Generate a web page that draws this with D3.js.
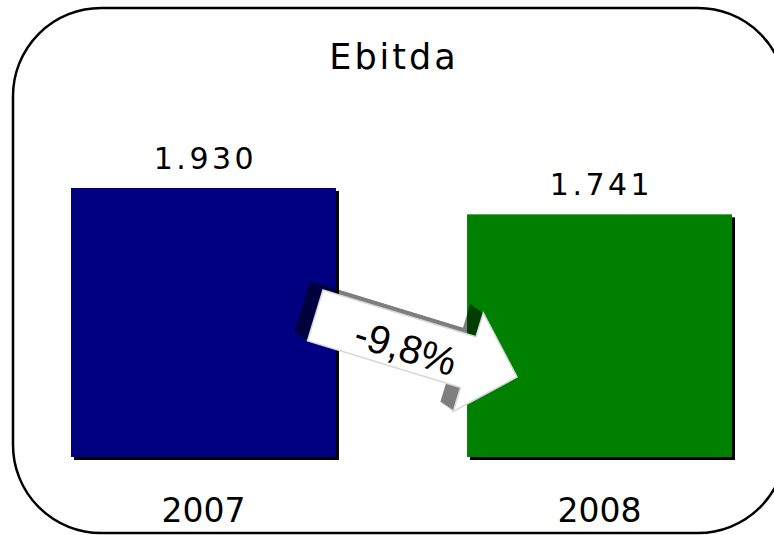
<!DOCTYPE html>
<html>
<head>
<meta charset="utf-8">
<script src="https://cdn.jsdelivr.net/npm/d3@7"></script>
<style>
  body { margin: 0; background: #fff; }
  svg { display: block; font-family: "DejaVu Sans", sans-serif; }
</style>
</head>
<body>
<svg id="chart" width="774" height="535"></svg>
<script>
// data
const title = "Ebitda";
const years = ["2007", "2008"];
const ebitda = [1930, 1741];
const barColors = ["#000080", "#008000"];

const svg = d3.select("#chart");

const data = years.map((y, i) => ({ year: y, value: ebitda[i], color: barColors[i] }));

// frame
svg.append("rect")
  .attr("x", 13).attr("y", 8)
  .attr("width", 773).attr("height", 525)
  .attr("rx", 88).attr("ry", 88)
  .attr("fill", "#fff")
  .attr("stroke", "#000")
  .attr("stroke-width", 2.5);

// scales
const x = d3.scaleBand()
  .domain(years)
  .range([71, 732])
  .paddingInner(0.331);

const y = d3.scaleLinear()
  .domain([0, 1930])
  .range([457, 188]);

// title
svg.append("text")
  .attr("x", 394).attr("y", 69)
  .attr("text-anchor", "middle")
  .attr("font-size", 35)
  .attr("letter-spacing", 3)
  .text(title);

// bar shadows
svg.selectAll("rect.shadow")
  .data(data)
  .enter().append("rect")
  .attr("class", "shadow")
  .attr("x", d => x(d.year) + 3)
  .attr("y", d => y(d.value) + 3)
  .attr("width", x.bandwidth())
  .attr("height", d => y(0) - y(d.value))
  .attr("fill", "#000");

// bars
svg.selectAll("rect.bar")
  .data(data)
  .enter().append("rect")
  .attr("class", "bar")
  .attr("x", d => x(d.year))
  .attr("y", d => y(d.value))
  .attr("width", x.bandwidth())
  .attr("height", d => y(0) - y(d.value))
  .attr("fill", d => d.color);

// value labels
const fmt = v => d3.format(",")(v).replace(/,/g, ".");
svg.selectAll("text.value")
  .data(data)
  .enter().append("text")
  .attr("class", "value")
  .attr("x", d => x(d.year) + x.bandwidth() / 2 + 2)
  .attr("y", d => y(d.value) - 19)
  .attr("text-anchor", "middle")
  .attr("font-size", 30)
  .attr("letter-spacing", 3.5)
  .text(d => fmt(d.value));

// year labels
svg.selectAll("text.year")
  .data(data)
  .enter().append("text")
  .attr("class", "year")
  .attr("x", d => x(d.year) + x.bandwidth() / 2)
  .attr("y", 522)
  .attr("text-anchor", "middle")
  .attr("font-size", 33)
  .text(d => d.year);

// change arrow
const change = (ebitda[1] / ebitda[0] - 1) * 100;
const changeLabel = (change < 0 ? "-" : "+") +
  Math.abs(change).toFixed(1).replace(".", ",") + "%";

const arrowPts = [[0, 0], [160, 0], [160, -25], [211, 26.5], [160, 78], [160, 53], [0, 53]];
const arrowPath = d3.line()(arrowPts) + "Z";
const ax = 323, ay = 290, angle = 17;

// extruded back side
const ext = svg.append("g").attr("opacity", 0.5);
d3.range(0, 1.0001, 1 / 16).forEach(t => {
  ext.append("path")
    .attr("d", arrowPath)
    .attr("transform", `translate(${ax - 13 * t},${ay - 9 * t}) rotate(${angle})`)
    .attr("fill", "#000");
});

const arrow = svg.append("g")
  .attr("transform", `translate(${ax},${ay}) rotate(${angle})`);

arrow.append("path")
  .attr("d", arrowPath)
  .attr("fill", "#fff")
  .attr("stroke", "#d8d8d8")
  .attr("stroke-width", 1.5)
  .attr("stroke-linejoin", "miter");

arrow.append("text")
  .attr("x", 96).attr("y", 45)
  .attr("text-anchor", "middle")
  .attr("font-family", "'Liberation Sans', Arial, sans-serif")
  .attr("font-size", 40)
  .text(changeLabel);
</script>
</body>
</html>
